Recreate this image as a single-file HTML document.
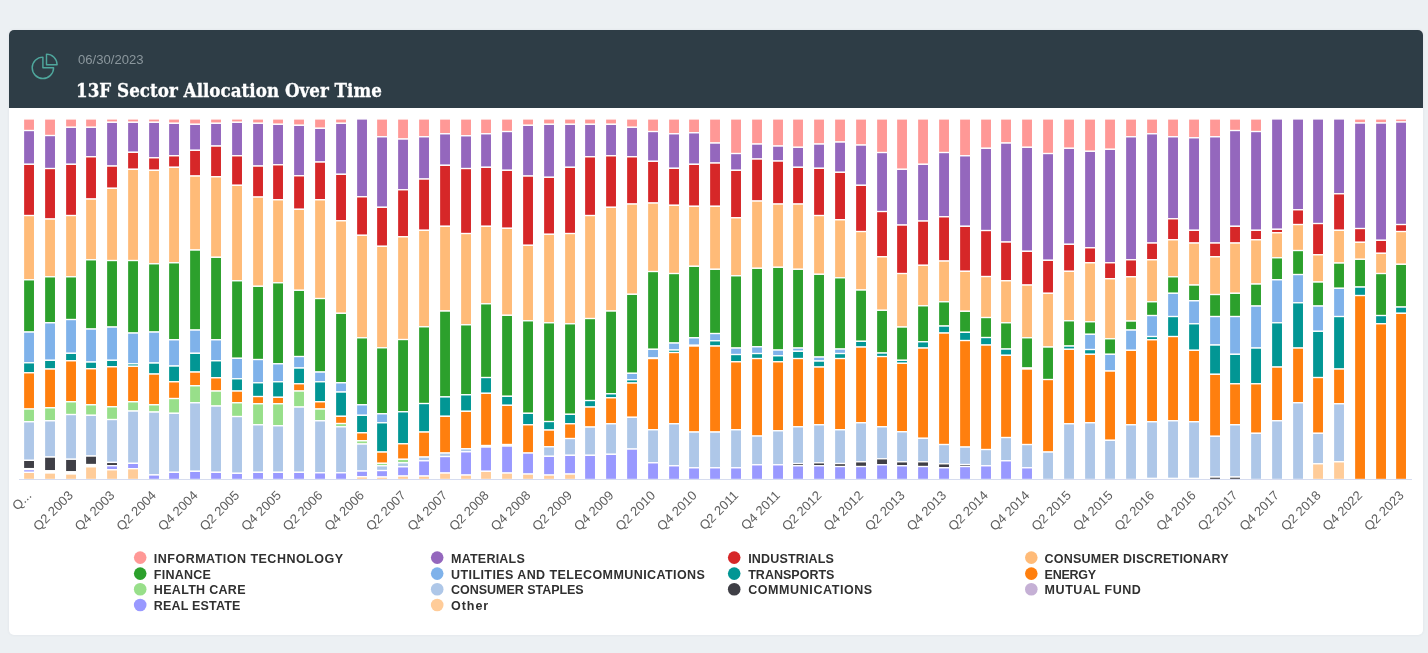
<!DOCTYPE html>
<html lang="en"><head><meta charset="utf-8"><title>13F Sector Allocation Over Time</title>
<style>
html,body{margin:0;padding:0}
body{width:1428px;height:653px;background:#ecf0f3;overflow:hidden;position:relative;font-family:"Liberation Sans",sans-serif}
.card{position:absolute;left:8.5px;top:30px;width:1414.2px;height:604.5px;background:#fff;border-radius:5px;box-shadow:0 0 3px rgba(60,70,80,.07)}
.hd{position:absolute;left:0;top:0;width:1414.2px;height:78.4px;background:#2e3d46;border-radius:5px 5px 0 0}
.date{position:absolute;left:69.5px;top:23.2px;font-size:13.1px;color:#8b979d;line-height:1;white-space:nowrap;letter-spacing:0px}
.title{position:absolute;left:67.9px;top:51.0px;font-family:"DejaVu Serif Condensed","DejaVu Serif","Liberation Serif",serif;font-weight:bold;font-size:19.2px;color:#fff;line-height:1;white-space:nowrap;letter-spacing:0px;transform-origin:0 0;transform:scaleX(0.971);-webkit-text-stroke:.3px #fff}
svg{position:absolute;left:0;top:0}
.xl text{font-family:"Liberation Sans",sans-serif;font-size:13px;fill:#5f5f5f}
.lg text{font-family:"Liberation Sans",sans-serif;font-weight:bold;font-size:12.5px;fill:#303030}
.bars rect{stroke:#fff;stroke-width:1.3}
</style></head><body>
<div class="card"><div class="hd">
<div class="date">06/30/2023</div>
<div class="title">13F Sector Allocation Over Time</div>
</div></div>
<svg width="1428" height="653" viewBox="0 0 1428 653">
<g fill="none" stroke="#4fa79d" stroke-width="1.45" stroke-linejoin="round">
<path d="M42.9 57.1 A10.7 10.7 0 1 0 53.6 67.8 L42.9 67.8 Z"/>
<path d="M46.5 54.1 A10.6 10.6 0 0 1 57.1 64.7 L46.5 64.7 Z"/>
</g>
<g class="bars">
<rect x="23.48" y="118.95" width="11.15" height="11.60" fill="#ff9896"/>
<rect x="23.48" y="130.55" width="11.15" height="33.75" fill="#9467bd"/>
<rect x="23.48" y="164.30" width="11.15" height="51.25" fill="#d62728"/>
<rect x="23.48" y="215.55" width="11.15" height="64.25" fill="#ffbb78"/>
<rect x="23.48" y="279.80" width="11.15" height="52.25" fill="#2ca02c"/>
<rect x="23.48" y="332.05" width="11.15" height="30.75" fill="#7fb2ea"/>
<rect x="23.48" y="362.80" width="11.15" height="10.00" fill="#029694"/>
<rect x="23.48" y="372.80" width="11.15" height="36.25" fill="#ff7f0e"/>
<rect x="23.48" y="409.05" width="11.15" height="12.75" fill="#98df8a"/>
<rect x="23.48" y="421.80" width="11.15" height="38.55" fill="#aec7e8"/>
<rect x="23.48" y="460.35" width="11.15" height="8.25" fill="#3f3f46"/>
<rect x="23.48" y="469.60" width="11.15" height="2.75" fill="#9999ff"/>
<rect x="23.48" y="472.35" width="11.15" height="7.10" fill="#ffcc99"/>
<rect x="44.48" y="118.95" width="11.15" height="16.60" fill="#ff9896"/>
<rect x="44.48" y="135.55" width="11.15" height="33.00" fill="#9467bd"/>
<rect x="44.48" y="168.55" width="11.15" height="50.50" fill="#d62728"/>
<rect x="44.48" y="219.05" width="11.15" height="57.75" fill="#ffbb78"/>
<rect x="44.48" y="276.80" width="11.15" height="46.00" fill="#2ca02c"/>
<rect x="44.48" y="322.80" width="11.15" height="37.50" fill="#7fb2ea"/>
<rect x="44.48" y="360.30" width="11.15" height="8.75" fill="#029694"/>
<rect x="44.48" y="369.05" width="11.15" height="38.75" fill="#ff7f0e"/>
<rect x="44.48" y="407.80" width="11.15" height="13.00" fill="#98df8a"/>
<rect x="44.48" y="420.80" width="11.15" height="36.25" fill="#aec7e8"/>
<rect x="44.48" y="457.05" width="11.15" height="13.65" fill="#3f3f46"/>
<rect x="44.48" y="473.00" width="11.15" height="6.45" fill="#ffcc99"/>
<rect x="65.48" y="118.95" width="11.15" height="8.35" fill="#ff9896"/>
<rect x="65.48" y="127.30" width="11.15" height="37.00" fill="#9467bd"/>
<rect x="65.48" y="164.30" width="11.15" height="51.25" fill="#d62728"/>
<rect x="65.48" y="215.55" width="11.15" height="61.25" fill="#ffbb78"/>
<rect x="65.48" y="276.80" width="11.15" height="42.75" fill="#2ca02c"/>
<rect x="65.48" y="319.55" width="11.15" height="33.75" fill="#7fb2ea"/>
<rect x="65.48" y="353.30" width="11.15" height="7.50" fill="#029694"/>
<rect x="65.48" y="360.80" width="11.15" height="41.00" fill="#ff7f0e"/>
<rect x="65.48" y="401.80" width="11.15" height="12.75" fill="#98df8a"/>
<rect x="65.48" y="414.55" width="11.15" height="44.70" fill="#aec7e8"/>
<rect x="65.48" y="459.25" width="11.15" height="12.45" fill="#3f3f46"/>
<rect x="65.48" y="474.00" width="11.15" height="5.45" fill="#ffcc99"/>
<rect x="85.48" y="118.95" width="11.15" height="8.35" fill="#ff9896"/>
<rect x="85.48" y="127.30" width="11.15" height="29.50" fill="#9467bd"/>
<rect x="85.48" y="156.80" width="11.15" height="42.25" fill="#d62728"/>
<rect x="85.48" y="199.05" width="11.15" height="60.75" fill="#ffbb78"/>
<rect x="85.48" y="259.80" width="11.15" height="69.25" fill="#2ca02c"/>
<rect x="85.48" y="329.05" width="11.15" height="33.00" fill="#7fb2ea"/>
<rect x="85.48" y="362.05" width="11.15" height="6.75" fill="#029694"/>
<rect x="85.48" y="368.80" width="11.15" height="36.00" fill="#ff7f0e"/>
<rect x="85.48" y="404.80" width="11.15" height="10.50" fill="#98df8a"/>
<rect x="85.48" y="415.30" width="11.15" height="40.75" fill="#aec7e8"/>
<rect x="85.48" y="456.05" width="11.15" height="8.45" fill="#3f3f46"/>
<rect x="85.48" y="466.80" width="11.15" height="12.65" fill="#ffcc99"/>
<rect x="106.48" y="118.95" width="11.15" height="3.35" fill="#ff9896"/>
<rect x="106.48" y="122.30" width="11.15" height="43.75" fill="#9467bd"/>
<rect x="106.48" y="166.05" width="11.15" height="22.25" fill="#d62728"/>
<rect x="106.48" y="188.30" width="11.15" height="72.25" fill="#ffbb78"/>
<rect x="106.48" y="260.55" width="11.15" height="66.50" fill="#2ca02c"/>
<rect x="106.48" y="327.05" width="11.15" height="33.25" fill="#7fb2ea"/>
<rect x="106.48" y="360.30" width="11.15" height="6.50" fill="#029694"/>
<rect x="106.48" y="366.80" width="11.15" height="40.00" fill="#ff7f0e"/>
<rect x="106.48" y="406.80" width="11.15" height="12.75" fill="#98df8a"/>
<rect x="106.48" y="419.55" width="11.15" height="42.85" fill="#aec7e8"/>
<rect x="106.48" y="462.40" width="11.15" height="3.35" fill="#3f3f46"/>
<rect x="106.48" y="465.75" width="11.15" height="4.05" fill="#9999ff"/>
<rect x="106.48" y="469.80" width="11.15" height="9.65" fill="#ffcc99"/>
<rect x="127.48" y="118.95" width="11.15" height="3.35" fill="#ff9896"/>
<rect x="127.48" y="122.30" width="11.15" height="30.00" fill="#9467bd"/>
<rect x="127.48" y="152.30" width="11.15" height="17.00" fill="#d62728"/>
<rect x="127.48" y="169.30" width="11.15" height="91.25" fill="#ffbb78"/>
<rect x="127.48" y="260.55" width="11.15" height="72.50" fill="#2ca02c"/>
<rect x="127.48" y="333.05" width="11.15" height="30.75" fill="#7fb2ea"/>
<rect x="127.48" y="363.80" width="11.15" height="2.50" fill="#029694"/>
<rect x="127.48" y="366.30" width="11.15" height="35.50" fill="#ff7f0e"/>
<rect x="127.48" y="401.80" width="11.15" height="9.25" fill="#98df8a"/>
<rect x="127.48" y="411.05" width="11.15" height="52.30" fill="#aec7e8"/>
<rect x="127.48" y="463.35" width="11.15" height="5.35" fill="#9999ff"/>
<rect x="127.48" y="468.70" width="11.15" height="10.75" fill="#ffcc99"/>
<rect x="148.48" y="118.95" width="11.15" height="3.35" fill="#ff9896"/>
<rect x="148.48" y="122.30" width="11.15" height="35.50" fill="#9467bd"/>
<rect x="148.48" y="157.80" width="11.15" height="12.50" fill="#d62728"/>
<rect x="148.48" y="170.30" width="11.15" height="93.50" fill="#ffbb78"/>
<rect x="148.48" y="263.80" width="11.15" height="68.25" fill="#2ca02c"/>
<rect x="148.48" y="332.05" width="11.15" height="31.00" fill="#7fb2ea"/>
<rect x="148.48" y="363.05" width="11.15" height="11.00" fill="#029694"/>
<rect x="148.48" y="374.05" width="11.15" height="30.75" fill="#ff7f0e"/>
<rect x="148.48" y="404.80" width="11.15" height="7.25" fill="#98df8a"/>
<rect x="148.48" y="412.05" width="11.15" height="62.90" fill="#aec7e8"/>
<rect x="148.48" y="474.95" width="11.15" height="4.50" fill="#9999ff"/>
<rect x="168.48" y="118.95" width="11.15" height="4.35" fill="#ff9896"/>
<rect x="168.48" y="123.30" width="11.15" height="32.50" fill="#9467bd"/>
<rect x="168.48" y="155.80" width="11.15" height="11.50" fill="#d62728"/>
<rect x="168.48" y="167.30" width="11.15" height="95.50" fill="#ffbb78"/>
<rect x="168.48" y="262.80" width="11.15" height="77.00" fill="#2ca02c"/>
<rect x="168.48" y="339.80" width="11.15" height="26.25" fill="#7fb2ea"/>
<rect x="168.48" y="366.05" width="11.15" height="15.75" fill="#029694"/>
<rect x="168.48" y="381.80" width="11.15" height="16.75" fill="#ff7f0e"/>
<rect x="168.48" y="398.55" width="11.15" height="14.75" fill="#98df8a"/>
<rect x="168.48" y="413.30" width="11.15" height="59.00" fill="#aec7e8"/>
<rect x="168.48" y="472.30" width="11.15" height="7.15" fill="#9999ff"/>
<rect x="189.48" y="118.95" width="11.15" height="5.35" fill="#ff9896"/>
<rect x="189.48" y="124.30" width="11.15" height="26.00" fill="#9467bd"/>
<rect x="189.48" y="150.30" width="11.15" height="25.75" fill="#d62728"/>
<rect x="189.48" y="176.05" width="11.15" height="74.00" fill="#ffbb78"/>
<rect x="189.48" y="250.05" width="11.15" height="80.00" fill="#2ca02c"/>
<rect x="189.48" y="330.05" width="11.15" height="23.25" fill="#7fb2ea"/>
<rect x="189.48" y="353.30" width="11.15" height="18.75" fill="#029694"/>
<rect x="189.48" y="372.05" width="11.15" height="13.75" fill="#ff7f0e"/>
<rect x="189.48" y="385.80" width="11.15" height="17.00" fill="#98df8a"/>
<rect x="189.48" y="402.80" width="11.15" height="68.50" fill="#aec7e8"/>
<rect x="189.48" y="471.30" width="11.15" height="8.15" fill="#9999ff"/>
<rect x="210.48" y="118.95" width="11.15" height="4.35" fill="#ff9896"/>
<rect x="210.48" y="123.30" width="11.15" height="22.75" fill="#9467bd"/>
<rect x="210.48" y="146.05" width="11.15" height="30.75" fill="#d62728"/>
<rect x="210.48" y="176.80" width="11.15" height="80.50" fill="#ffbb78"/>
<rect x="210.48" y="257.30" width="11.15" height="82.50" fill="#2ca02c"/>
<rect x="210.48" y="339.80" width="11.15" height="21.00" fill="#7fb2ea"/>
<rect x="210.48" y="360.80" width="11.15" height="17.00" fill="#029694"/>
<rect x="210.48" y="377.80" width="11.15" height="13.25" fill="#ff7f0e"/>
<rect x="210.48" y="391.05" width="11.15" height="15.00" fill="#98df8a"/>
<rect x="210.48" y="406.05" width="11.15" height="66.25" fill="#aec7e8"/>
<rect x="210.48" y="472.30" width="11.15" height="7.15" fill="#9999ff"/>
<rect x="231.48" y="118.95" width="11.15" height="3.35" fill="#ff9896"/>
<rect x="231.48" y="122.30" width="11.15" height="33.50" fill="#9467bd"/>
<rect x="231.48" y="155.80" width="11.15" height="29.50" fill="#d62728"/>
<rect x="231.48" y="185.30" width="11.15" height="95.50" fill="#ffbb78"/>
<rect x="231.48" y="280.80" width="11.15" height="77.50" fill="#2ca02c"/>
<rect x="231.48" y="358.30" width="11.15" height="20.50" fill="#7fb2ea"/>
<rect x="231.48" y="378.80" width="11.15" height="12.25" fill="#029694"/>
<rect x="231.48" y="391.05" width="11.15" height="11.75" fill="#ff7f0e"/>
<rect x="231.48" y="402.80" width="11.15" height="13.75" fill="#98df8a"/>
<rect x="231.48" y="416.55" width="11.15" height="56.75" fill="#aec7e8"/>
<rect x="231.48" y="473.30" width="11.15" height="6.15" fill="#9999ff"/>
<rect x="252.48" y="118.95" width="11.15" height="4.35" fill="#ff9896"/>
<rect x="252.48" y="123.30" width="11.15" height="42.75" fill="#9467bd"/>
<rect x="252.48" y="166.05" width="11.15" height="31.00" fill="#d62728"/>
<rect x="252.48" y="197.05" width="11.15" height="89.25" fill="#ffbb78"/>
<rect x="252.48" y="286.30" width="11.15" height="73.25" fill="#2ca02c"/>
<rect x="252.48" y="359.55" width="11.15" height="23.25" fill="#7fb2ea"/>
<rect x="252.48" y="382.80" width="11.15" height="13.75" fill="#029694"/>
<rect x="252.48" y="396.55" width="11.15" height="7.25" fill="#ff7f0e"/>
<rect x="252.48" y="403.80" width="11.15" height="21.00" fill="#98df8a"/>
<rect x="252.48" y="424.80" width="11.15" height="47.50" fill="#aec7e8"/>
<rect x="252.48" y="472.30" width="11.15" height="7.15" fill="#9999ff"/>
<rect x="272.48" y="118.95" width="11.15" height="5.35" fill="#ff9896"/>
<rect x="272.48" y="124.30" width="11.15" height="40.50" fill="#9467bd"/>
<rect x="272.48" y="164.80" width="11.15" height="35.00" fill="#d62728"/>
<rect x="272.48" y="199.80" width="11.15" height="83.00" fill="#ffbb78"/>
<rect x="272.48" y="282.80" width="11.15" height="81.00" fill="#2ca02c"/>
<rect x="272.48" y="363.80" width="11.15" height="18.00" fill="#7fb2ea"/>
<rect x="272.48" y="381.80" width="11.15" height="15.50" fill="#029694"/>
<rect x="272.48" y="397.30" width="11.15" height="6.50" fill="#ff7f0e"/>
<rect x="272.48" y="403.80" width="11.15" height="22.00" fill="#98df8a"/>
<rect x="272.48" y="425.80" width="11.15" height="46.50" fill="#aec7e8"/>
<rect x="272.48" y="472.30" width="11.15" height="7.15" fill="#9999ff"/>
<rect x="293.48" y="118.95" width="11.15" height="6.35" fill="#ff9896"/>
<rect x="293.48" y="125.30" width="11.15" height="50.50" fill="#9467bd"/>
<rect x="293.48" y="175.80" width="11.15" height="33.50" fill="#d62728"/>
<rect x="293.48" y="209.30" width="11.15" height="81.00" fill="#ffbb78"/>
<rect x="293.48" y="290.30" width="11.15" height="66.25" fill="#2ca02c"/>
<rect x="293.48" y="356.55" width="11.15" height="11.50" fill="#7fb2ea"/>
<rect x="293.48" y="368.05" width="11.15" height="15.75" fill="#029694"/>
<rect x="293.48" y="383.80" width="11.15" height="7.25" fill="#ff7f0e"/>
<rect x="293.48" y="391.05" width="11.15" height="16.00" fill="#98df8a"/>
<rect x="293.48" y="407.05" width="11.15" height="65.25" fill="#aec7e8"/>
<rect x="293.48" y="472.30" width="11.15" height="7.15" fill="#9999ff"/>
<rect x="314.48" y="118.95" width="11.15" height="9.35" fill="#ff9896"/>
<rect x="314.48" y="128.30" width="11.15" height="33.75" fill="#9467bd"/>
<rect x="314.48" y="162.05" width="11.15" height="37.75" fill="#d62728"/>
<rect x="314.48" y="199.80" width="11.15" height="98.75" fill="#ffbb78"/>
<rect x="314.48" y="298.55" width="11.15" height="73.50" fill="#2ca02c"/>
<rect x="314.48" y="372.05" width="11.15" height="9.75" fill="#7fb2ea"/>
<rect x="314.48" y="381.80" width="11.15" height="20.00" fill="#029694"/>
<rect x="314.48" y="401.80" width="11.15" height="7.25" fill="#ff7f0e"/>
<rect x="314.48" y="409.05" width="11.15" height="11.75" fill="#98df8a"/>
<rect x="314.48" y="420.80" width="11.15" height="52.00" fill="#aec7e8"/>
<rect x="314.48" y="472.80" width="11.15" height="6.65" fill="#9999ff"/>
<rect x="335.48" y="118.95" width="11.15" height="4.35" fill="#ff9896"/>
<rect x="335.48" y="123.30" width="11.15" height="51.00" fill="#9467bd"/>
<rect x="335.48" y="174.30" width="11.15" height="46.50" fill="#d62728"/>
<rect x="335.48" y="220.80" width="11.15" height="92.50" fill="#ffbb78"/>
<rect x="335.48" y="313.30" width="11.15" height="69.50" fill="#2ca02c"/>
<rect x="335.48" y="382.80" width="11.15" height="9.25" fill="#7fb2ea"/>
<rect x="335.48" y="392.05" width="11.15" height="24.25" fill="#029694"/>
<rect x="335.48" y="416.30" width="11.15" height="7.25" fill="#ff7f0e"/>
<rect x="335.48" y="423.55" width="11.15" height="3.25" fill="#98df8a"/>
<rect x="335.48" y="426.80" width="11.15" height="46.00" fill="#aec7e8"/>
<rect x="335.48" y="472.80" width="11.15" height="6.65" fill="#9999ff"/>
<rect x="356.48" y="118.95" width="11.15" height="77.85" fill="#9467bd"/>
<rect x="356.48" y="196.80" width="11.15" height="38.50" fill="#d62728"/>
<rect x="356.48" y="235.30" width="11.15" height="102.50" fill="#ffbb78"/>
<rect x="356.48" y="337.80" width="11.15" height="67.00" fill="#2ca02c"/>
<rect x="356.48" y="404.80" width="11.15" height="10.50" fill="#7fb2ea"/>
<rect x="356.48" y="415.30" width="11.15" height="17.50" fill="#029694"/>
<rect x="356.48" y="432.80" width="11.15" height="8.00" fill="#ff7f0e"/>
<rect x="356.48" y="440.80" width="11.15" height="3.25" fill="#98df8a"/>
<rect x="356.48" y="444.05" width="11.15" height="27.00" fill="#aec7e8"/>
<rect x="356.48" y="471.05" width="11.15" height="5.75" fill="#9999ff"/>
<rect x="356.48" y="476.80" width="11.15" height="2.65" fill="#ffcc99"/>
<rect x="376.48" y="118.95" width="11.15" height="17.85" fill="#ff9896"/>
<rect x="376.48" y="136.80" width="11.15" height="70.50" fill="#9467bd"/>
<rect x="376.48" y="207.30" width="11.15" height="39.00" fill="#d62728"/>
<rect x="376.48" y="246.30" width="11.15" height="101.50" fill="#ffbb78"/>
<rect x="376.48" y="347.80" width="11.15" height="66.00" fill="#2ca02c"/>
<rect x="376.48" y="413.80" width="11.15" height="9.00" fill="#7fb2ea"/>
<rect x="376.48" y="422.80" width="11.15" height="29.25" fill="#029694"/>
<rect x="376.48" y="452.05" width="11.15" height="11.25" fill="#ff7f0e"/>
<rect x="376.48" y="463.30" width="11.15" height="2.50" fill="#98df8a"/>
<rect x="376.48" y="465.80" width="11.15" height="4.75" fill="#aec7e8"/>
<rect x="376.48" y="470.55" width="11.15" height="6.50" fill="#9999ff"/>
<rect x="376.48" y="477.05" width="11.15" height="2.40" fill="#ffcc99"/>
<rect x="397.48" y="118.95" width="11.15" height="20.10" fill="#ff9896"/>
<rect x="397.48" y="139.05" width="11.15" height="50.75" fill="#9467bd"/>
<rect x="397.48" y="189.80" width="11.15" height="47.00" fill="#d62728"/>
<rect x="397.48" y="236.80" width="11.15" height="102.75" fill="#ffbb78"/>
<rect x="397.48" y="339.55" width="11.15" height="72.25" fill="#2ca02c"/>
<rect x="397.48" y="411.80" width="11.15" height="32.00" fill="#029694"/>
<rect x="397.48" y="443.80" width="11.15" height="15.50" fill="#ff7f0e"/>
<rect x="397.48" y="459.30" width="11.15" height="3.50" fill="#98df8a"/>
<rect x="397.48" y="462.80" width="11.15" height="4.00" fill="#aec7e8"/>
<rect x="397.48" y="466.80" width="11.15" height="9.25" fill="#9999ff"/>
<rect x="397.48" y="476.05" width="11.15" height="3.40" fill="#ffcc99"/>
<rect x="418.48" y="118.95" width="11.15" height="17.85" fill="#ff9896"/>
<rect x="418.48" y="136.80" width="11.15" height="42.25" fill="#9467bd"/>
<rect x="418.48" y="179.05" width="11.15" height="51.25" fill="#d62728"/>
<rect x="418.48" y="230.30" width="11.15" height="96.50" fill="#ffbb78"/>
<rect x="418.48" y="326.80" width="11.15" height="76.75" fill="#2ca02c"/>
<rect x="418.48" y="403.55" width="11.15" height="28.50" fill="#029694"/>
<rect x="418.48" y="432.05" width="11.15" height="25.00" fill="#ff7f0e"/>
<rect x="418.48" y="457.05" width="11.15" height="3.75" fill="#aec7e8"/>
<rect x="418.48" y="460.80" width="11.15" height="15.25" fill="#9999ff"/>
<rect x="418.48" y="476.05" width="11.15" height="3.40" fill="#ffcc99"/>
<rect x="439.48" y="118.95" width="11.15" height="14.85" fill="#ff9896"/>
<rect x="439.48" y="133.80" width="11.15" height="31.50" fill="#9467bd"/>
<rect x="439.48" y="165.30" width="11.15" height="61.00" fill="#d62728"/>
<rect x="439.48" y="226.30" width="11.15" height="84.75" fill="#ffbb78"/>
<rect x="439.48" y="311.05" width="11.15" height="85.88" fill="#2ca02c"/>
<rect x="439.48" y="396.93" width="11.15" height="19.38" fill="#029694"/>
<rect x="439.48" y="416.30" width="11.15" height="36.75" fill="#ff7f0e"/>
<rect x="439.48" y="453.05" width="11.15" height="3.50" fill="#aec7e8"/>
<rect x="439.48" y="456.55" width="11.15" height="16.50" fill="#9999ff"/>
<rect x="439.48" y="473.05" width="11.15" height="6.40" fill="#ffcc99"/>
<rect x="460.48" y="118.95" width="11.15" height="16.85" fill="#ff9896"/>
<rect x="460.48" y="135.80" width="11.15" height="32.75" fill="#9467bd"/>
<rect x="460.48" y="168.55" width="11.15" height="65.00" fill="#d62728"/>
<rect x="460.48" y="233.55" width="11.15" height="91.25" fill="#ffbb78"/>
<rect x="460.48" y="324.80" width="11.15" height="70.00" fill="#2ca02c"/>
<rect x="460.48" y="394.80" width="11.15" height="16.50" fill="#029694"/>
<rect x="460.48" y="411.30" width="11.15" height="37.50" fill="#ff7f0e"/>
<rect x="460.48" y="448.80" width="11.15" height="3.00" fill="#aec7e8"/>
<rect x="460.48" y="451.80" width="11.15" height="23.25" fill="#9999ff"/>
<rect x="460.48" y="475.05" width="11.15" height="4.40" fill="#ffcc99"/>
<rect x="480.48" y="118.95" width="11.15" height="14.85" fill="#ff9896"/>
<rect x="480.48" y="133.80" width="11.15" height="33.50" fill="#9467bd"/>
<rect x="480.48" y="167.30" width="11.15" height="59.00" fill="#d62728"/>
<rect x="480.48" y="226.30" width="11.15" height="77.50" fill="#ffbb78"/>
<rect x="480.48" y="303.80" width="11.15" height="73.75" fill="#2ca02c"/>
<rect x="480.48" y="377.55" width="11.15" height="15.75" fill="#029694"/>
<rect x="480.48" y="393.30" width="11.15" height="52.25" fill="#ff7f0e"/>
<rect x="480.48" y="445.55" width="11.15" height="1.50" fill="#aec7e8"/>
<rect x="480.48" y="447.05" width="11.15" height="24.25" fill="#9999ff"/>
<rect x="480.48" y="471.30" width="11.15" height="8.15" fill="#ffcc99"/>
<rect x="501.48" y="118.95" width="11.15" height="12.60" fill="#ff9896"/>
<rect x="501.48" y="131.55" width="11.15" height="38.75" fill="#9467bd"/>
<rect x="501.48" y="170.30" width="11.15" height="58.00" fill="#d62728"/>
<rect x="501.48" y="228.30" width="11.15" height="87.00" fill="#ffbb78"/>
<rect x="501.48" y="315.30" width="11.15" height="81.00" fill="#2ca02c"/>
<rect x="501.48" y="396.30" width="11.15" height="9.00" fill="#029694"/>
<rect x="501.48" y="405.30" width="11.15" height="39.25" fill="#ff7f0e"/>
<rect x="501.48" y="444.55" width="11.15" height="1.50" fill="#aec7e8"/>
<rect x="501.48" y="446.05" width="11.15" height="27.00" fill="#9999ff"/>
<rect x="501.48" y="473.05" width="11.15" height="6.40" fill="#ffcc99"/>
<rect x="522.48" y="118.95" width="11.15" height="6.35" fill="#ff9896"/>
<rect x="522.48" y="125.30" width="11.15" height="50.75" fill="#9467bd"/>
<rect x="522.48" y="176.05" width="11.15" height="69.25" fill="#d62728"/>
<rect x="522.48" y="245.30" width="11.15" height="75.50" fill="#ffbb78"/>
<rect x="522.48" y="320.80" width="11.15" height="92.50" fill="#2ca02c"/>
<rect x="522.48" y="413.30" width="11.15" height="11.50" fill="#029694"/>
<rect x="522.48" y="424.80" width="11.15" height="28.25" fill="#ff7f0e"/>
<rect x="522.48" y="453.05" width="11.15" height="21.00" fill="#9999ff"/>
<rect x="522.48" y="474.05" width="11.15" height="5.40" fill="#ffcc99"/>
<rect x="543.48" y="118.95" width="11.15" height="5.35" fill="#ff9896"/>
<rect x="543.48" y="124.30" width="11.15" height="53.00" fill="#9467bd"/>
<rect x="543.48" y="177.30" width="11.15" height="57.00" fill="#d62728"/>
<rect x="543.48" y="234.30" width="11.15" height="88.50" fill="#ffbb78"/>
<rect x="543.48" y="322.80" width="11.15" height="98.75" fill="#2ca02c"/>
<rect x="543.48" y="421.55" width="11.15" height="8.50" fill="#029694"/>
<rect x="543.48" y="430.05" width="11.15" height="16.75" fill="#ff7f0e"/>
<rect x="543.48" y="446.80" width="11.15" height="9.50" fill="#aec7e8"/>
<rect x="543.48" y="456.30" width="11.15" height="18.75" fill="#9999ff"/>
<rect x="543.48" y="475.05" width="11.15" height="4.40" fill="#ffcc99"/>
<rect x="564.48" y="118.95" width="11.15" height="5.35" fill="#ff9896"/>
<rect x="564.48" y="124.30" width="11.15" height="43.00" fill="#9467bd"/>
<rect x="564.48" y="167.30" width="11.15" height="66.25" fill="#d62728"/>
<rect x="564.48" y="233.55" width="11.15" height="90.25" fill="#ffbb78"/>
<rect x="564.48" y="323.80" width="11.15" height="90.50" fill="#2ca02c"/>
<rect x="564.48" y="414.30" width="11.15" height="9.50" fill="#029694"/>
<rect x="564.48" y="423.80" width="11.15" height="14.75" fill="#ff7f0e"/>
<rect x="564.48" y="438.55" width="11.15" height="16.75" fill="#aec7e8"/>
<rect x="564.48" y="455.30" width="11.15" height="18.75" fill="#9999ff"/>
<rect x="564.48" y="474.05" width="11.15" height="5.40" fill="#ffcc99"/>
<rect x="584.48" y="118.95" width="11.15" height="5.35" fill="#ff9896"/>
<rect x="584.48" y="124.30" width="11.15" height="32.50" fill="#9467bd"/>
<rect x="584.48" y="156.80" width="11.15" height="58.75" fill="#d62728"/>
<rect x="584.48" y="215.55" width="11.15" height="103.00" fill="#ffbb78"/>
<rect x="584.48" y="318.55" width="11.15" height="82.00" fill="#2ca02c"/>
<rect x="584.48" y="400.55" width="11.15" height="6.50" fill="#029694"/>
<rect x="584.48" y="407.05" width="11.15" height="20.00" fill="#ff7f0e"/>
<rect x="584.48" y="427.05" width="11.15" height="28.25" fill="#aec7e8"/>
<rect x="584.48" y="455.30" width="11.15" height="24.15" fill="#9999ff"/>
<rect x="605.48" y="118.95" width="11.15" height="5.35" fill="#ff9896"/>
<rect x="605.48" y="124.30" width="11.15" height="31.50" fill="#9467bd"/>
<rect x="605.48" y="155.80" width="11.15" height="51.50" fill="#d62728"/>
<rect x="605.48" y="207.30" width="11.15" height="103.75" fill="#ffbb78"/>
<rect x="605.48" y="311.05" width="11.15" height="82.75" fill="#2ca02c"/>
<rect x="605.48" y="393.80" width="11.15" height="4.00" fill="#029694"/>
<rect x="605.48" y="397.80" width="11.15" height="26.00" fill="#ff7f0e"/>
<rect x="605.48" y="423.80" width="11.15" height="30.50" fill="#aec7e8"/>
<rect x="605.48" y="454.30" width="11.15" height="25.15" fill="#9999ff"/>
<rect x="626.48" y="118.95" width="11.15" height="8.35" fill="#ff9896"/>
<rect x="626.48" y="127.30" width="11.15" height="29.50" fill="#9467bd"/>
<rect x="626.48" y="156.80" width="11.15" height="47.25" fill="#d62728"/>
<rect x="626.48" y="204.05" width="11.15" height="90.25" fill="#ffbb78"/>
<rect x="626.48" y="294.30" width="11.15" height="79.00" fill="#2ca02c"/>
<rect x="626.48" y="373.30" width="11.15" height="6.50" fill="#7fb2ea"/>
<rect x="626.48" y="379.80" width="11.15" height="3.25" fill="#029694"/>
<rect x="626.48" y="383.05" width="11.15" height="34.25" fill="#ff7f0e"/>
<rect x="626.48" y="417.30" width="11.15" height="31.75" fill="#aec7e8"/>
<rect x="626.48" y="449.05" width="11.15" height="30.40" fill="#9999ff"/>
<rect x="647.48" y="118.95" width="11.15" height="12.60" fill="#ff9896"/>
<rect x="647.48" y="131.55" width="11.15" height="29.75" fill="#9467bd"/>
<rect x="647.48" y="161.30" width="11.15" height="41.75" fill="#d62728"/>
<rect x="647.48" y="203.05" width="11.15" height="68.50" fill="#ffbb78"/>
<rect x="647.48" y="271.55" width="11.15" height="77.75" fill="#2ca02c"/>
<rect x="647.48" y="349.30" width="11.15" height="8.50" fill="#7fb2ea"/>
<rect x="647.48" y="358.55" width="11.15" height="71.25" fill="#ff7f0e"/>
<rect x="647.48" y="429.80" width="11.15" height="33.00" fill="#aec7e8"/>
<rect x="647.48" y="462.80" width="11.15" height="16.65" fill="#9999ff"/>
<rect x="668.48" y="118.95" width="11.15" height="14.85" fill="#ff9896"/>
<rect x="668.48" y="133.80" width="11.15" height="34.50" fill="#9467bd"/>
<rect x="668.48" y="168.30" width="11.15" height="37.00" fill="#d62728"/>
<rect x="668.48" y="205.30" width="11.15" height="68.25" fill="#ffbb78"/>
<rect x="668.48" y="273.55" width="11.15" height="69.50" fill="#2ca02c"/>
<rect x="668.48" y="343.05" width="11.15" height="7.00" fill="#7fb2ea"/>
<rect x="668.48" y="350.05" width="11.15" height="2.50" fill="#029694"/>
<rect x="668.48" y="352.55" width="11.15" height="71.25" fill="#ff7f0e"/>
<rect x="668.48" y="423.80" width="11.15" height="42.00" fill="#aec7e8"/>
<rect x="668.48" y="465.80" width="11.15" height="13.65" fill="#9999ff"/>
<rect x="688.48" y="118.95" width="11.15" height="13.85" fill="#ff9896"/>
<rect x="688.48" y="132.80" width="11.15" height="31.50" fill="#9467bd"/>
<rect x="688.48" y="164.30" width="11.15" height="42.00" fill="#d62728"/>
<rect x="688.48" y="206.30" width="11.15" height="60.00" fill="#ffbb78"/>
<rect x="688.48" y="266.30" width="11.15" height="71.50" fill="#2ca02c"/>
<rect x="688.48" y="337.80" width="11.15" height="7.25" fill="#7fb2ea"/>
<rect x="688.48" y="346.05" width="11.15" height="86.00" fill="#ff7f0e"/>
<rect x="688.48" y="432.05" width="11.15" height="35.75" fill="#aec7e8"/>
<rect x="688.48" y="467.80" width="11.15" height="11.65" fill="#9999ff"/>
<rect x="709.48" y="118.95" width="11.15" height="24.10" fill="#ff9896"/>
<rect x="709.48" y="143.05" width="11.15" height="20.00" fill="#9467bd"/>
<rect x="709.48" y="163.05" width="11.15" height="43.25" fill="#d62728"/>
<rect x="709.48" y="206.30" width="11.15" height="63.00" fill="#ffbb78"/>
<rect x="709.48" y="269.30" width="11.15" height="64.25" fill="#2ca02c"/>
<rect x="709.48" y="333.55" width="11.15" height="7.25" fill="#7fb2ea"/>
<rect x="709.48" y="340.80" width="11.15" height="5.25" fill="#029694"/>
<rect x="709.48" y="346.05" width="11.15" height="86.00" fill="#ff7f0e"/>
<rect x="709.48" y="432.05" width="11.15" height="35.75" fill="#aec7e8"/>
<rect x="709.48" y="467.80" width="11.15" height="11.65" fill="#9999ff"/>
<rect x="730.48" y="118.95" width="11.15" height="34.60" fill="#ff9896"/>
<rect x="730.48" y="153.55" width="11.15" height="16.75" fill="#9467bd"/>
<rect x="730.48" y="170.30" width="11.15" height="47.50" fill="#d62728"/>
<rect x="730.48" y="217.80" width="11.15" height="58.00" fill="#ffbb78"/>
<rect x="730.48" y="275.80" width="11.15" height="72.25" fill="#2ca02c"/>
<rect x="730.48" y="348.05" width="11.15" height="6.50" fill="#7fb2ea"/>
<rect x="730.48" y="354.55" width="11.15" height="7.25" fill="#029694"/>
<rect x="730.48" y="361.80" width="11.15" height="68.00" fill="#ff7f0e"/>
<rect x="730.48" y="429.80" width="11.15" height="38.00" fill="#aec7e8"/>
<rect x="730.48" y="467.80" width="11.15" height="11.65" fill="#9999ff"/>
<rect x="751.48" y="118.95" width="11.15" height="25.10" fill="#ff9896"/>
<rect x="751.48" y="144.05" width="11.15" height="15.00" fill="#9467bd"/>
<rect x="751.48" y="159.05" width="11.15" height="42.00" fill="#d62728"/>
<rect x="751.48" y="201.05" width="11.15" height="67.25" fill="#ffbb78"/>
<rect x="751.48" y="268.30" width="11.15" height="78.50" fill="#2ca02c"/>
<rect x="751.48" y="346.80" width="11.15" height="6.75" fill="#7fb2ea"/>
<rect x="751.48" y="353.55" width="11.15" height="5.00" fill="#029694"/>
<rect x="751.48" y="358.55" width="11.15" height="77.50" fill="#ff7f0e"/>
<rect x="751.48" y="436.05" width="11.15" height="28.75" fill="#aec7e8"/>
<rect x="751.48" y="464.80" width="11.15" height="14.65" fill="#9999ff"/>
<rect x="772.48" y="118.95" width="11.15" height="27.10" fill="#ff9896"/>
<rect x="772.48" y="146.05" width="11.15" height="15.00" fill="#9467bd"/>
<rect x="772.48" y="161.05" width="11.15" height="43.00" fill="#d62728"/>
<rect x="772.48" y="204.05" width="11.15" height="63.25" fill="#ffbb78"/>
<rect x="772.48" y="267.30" width="11.15" height="82.75" fill="#2ca02c"/>
<rect x="772.48" y="350.05" width="11.15" height="5.75" fill="#7fb2ea"/>
<rect x="772.48" y="355.80" width="11.15" height="6.00" fill="#029694"/>
<rect x="772.48" y="361.80" width="11.15" height="69.00" fill="#ff7f0e"/>
<rect x="772.48" y="430.80" width="11.15" height="34.00" fill="#aec7e8"/>
<rect x="772.48" y="464.80" width="11.15" height="14.65" fill="#9999ff"/>
<rect x="792.48" y="118.95" width="11.15" height="28.35" fill="#ff9896"/>
<rect x="792.48" y="147.30" width="11.15" height="20.00" fill="#9467bd"/>
<rect x="792.48" y="167.30" width="11.15" height="36.75" fill="#d62728"/>
<rect x="792.48" y="204.05" width="11.15" height="65.25" fill="#ffbb78"/>
<rect x="792.48" y="269.30" width="11.15" height="78.75" fill="#2ca02c"/>
<rect x="792.48" y="348.05" width="11.15" height="3.25" fill="#7fb2ea"/>
<rect x="792.48" y="351.30" width="11.15" height="7.25" fill="#029694"/>
<rect x="792.48" y="358.55" width="11.15" height="68.25" fill="#ff7f0e"/>
<rect x="792.48" y="426.80" width="11.15" height="36.75" fill="#aec7e8"/>
<rect x="792.48" y="463.55" width="11.15" height="2.25" fill="#3f3f46"/>
<rect x="792.48" y="465.80" width="11.15" height="13.65" fill="#9999ff"/>
<rect x="813.48" y="118.95" width="11.15" height="25.10" fill="#ff9896"/>
<rect x="813.48" y="144.05" width="11.15" height="24.25" fill="#9467bd"/>
<rect x="813.48" y="168.30" width="11.15" height="47.25" fill="#d62728"/>
<rect x="813.48" y="215.55" width="11.15" height="58.75" fill="#ffbb78"/>
<rect x="813.48" y="274.30" width="11.15" height="82.75" fill="#2ca02c"/>
<rect x="813.48" y="357.05" width="11.15" height="4.00" fill="#7fb2ea"/>
<rect x="813.48" y="361.05" width="11.15" height="6.00" fill="#029694"/>
<rect x="813.48" y="367.05" width="11.15" height="57.75" fill="#ff7f0e"/>
<rect x="813.48" y="424.80" width="11.15" height="38.00" fill="#aec7e8"/>
<rect x="813.48" y="462.80" width="11.15" height="3.00" fill="#3f3f46"/>
<rect x="813.48" y="465.80" width="11.15" height="13.65" fill="#9999ff"/>
<rect x="834.48" y="118.95" width="11.15" height="23.10" fill="#ff9896"/>
<rect x="834.48" y="142.05" width="11.15" height="30.25" fill="#9467bd"/>
<rect x="834.48" y="172.30" width="11.15" height="47.50" fill="#d62728"/>
<rect x="834.48" y="219.80" width="11.15" height="58.00" fill="#ffbb78"/>
<rect x="834.48" y="277.80" width="11.15" height="71.25" fill="#2ca02c"/>
<rect x="834.48" y="349.05" width="11.15" height="4.50" fill="#7fb2ea"/>
<rect x="834.48" y="353.55" width="11.15" height="5.00" fill="#029694"/>
<rect x="834.48" y="358.55" width="11.15" height="71.25" fill="#ff7f0e"/>
<rect x="834.48" y="429.80" width="11.15" height="33.75" fill="#aec7e8"/>
<rect x="834.48" y="463.55" width="11.15" height="3.00" fill="#3f3f46"/>
<rect x="834.48" y="466.55" width="11.15" height="12.90" fill="#9999ff"/>
<rect x="855.48" y="118.95" width="11.15" height="26.10" fill="#ff9896"/>
<rect x="855.48" y="145.05" width="11.15" height="40.25" fill="#9467bd"/>
<rect x="855.48" y="185.30" width="11.15" height="46.25" fill="#d62728"/>
<rect x="855.48" y="231.55" width="11.15" height="58.50" fill="#ffbb78"/>
<rect x="855.48" y="290.05" width="11.15" height="51.25" fill="#2ca02c"/>
<rect x="855.48" y="341.30" width="11.15" height="5.75" fill="#029694"/>
<rect x="855.48" y="347.05" width="11.15" height="75.75" fill="#ff7f0e"/>
<rect x="855.48" y="422.80" width="11.15" height="39.00" fill="#aec7e8"/>
<rect x="855.48" y="461.80" width="11.15" height="4.75" fill="#3f3f46"/>
<rect x="855.48" y="466.55" width="11.15" height="12.90" fill="#9999ff"/>
<rect x="876.48" y="118.95" width="11.15" height="33.60" fill="#ff9896"/>
<rect x="876.48" y="152.55" width="11.15" height="59.00" fill="#9467bd"/>
<rect x="876.48" y="211.55" width="11.15" height="45.25" fill="#d62728"/>
<rect x="876.48" y="256.80" width="11.15" height="53.50" fill="#ffbb78"/>
<rect x="876.48" y="310.30" width="11.15" height="42.75" fill="#2ca02c"/>
<rect x="876.48" y="353.05" width="11.15" height="3.50" fill="#029694"/>
<rect x="876.48" y="356.55" width="11.15" height="70.25" fill="#ff7f0e"/>
<rect x="876.48" y="426.80" width="11.15" height="32.00" fill="#aec7e8"/>
<rect x="876.48" y="458.80" width="11.15" height="6.00" fill="#3f3f46"/>
<rect x="876.48" y="464.80" width="11.15" height="14.65" fill="#9999ff"/>
<rect x="896.48" y="118.95" width="11.15" height="50.35" fill="#ff9896"/>
<rect x="896.48" y="169.30" width="11.15" height="55.75" fill="#9467bd"/>
<rect x="896.48" y="225.05" width="11.15" height="48.50" fill="#d62728"/>
<rect x="896.48" y="273.55" width="11.15" height="53.50" fill="#ffbb78"/>
<rect x="896.48" y="327.05" width="11.15" height="33.25" fill="#2ca02c"/>
<rect x="896.48" y="360.30" width="11.15" height="3.00" fill="#029694"/>
<rect x="896.48" y="363.30" width="11.15" height="68.50" fill="#ff7f0e"/>
<rect x="896.48" y="431.80" width="11.15" height="30.00" fill="#aec7e8"/>
<rect x="896.48" y="461.80" width="11.15" height="4.00" fill="#3f3f46"/>
<rect x="896.48" y="465.80" width="11.15" height="13.65" fill="#9999ff"/>
<rect x="917.48" y="118.95" width="11.15" height="45.35" fill="#ff9896"/>
<rect x="917.48" y="164.30" width="11.15" height="56.75" fill="#9467bd"/>
<rect x="917.48" y="221.05" width="11.15" height="44.25" fill="#d62728"/>
<rect x="917.48" y="265.30" width="11.15" height="40.50" fill="#ffbb78"/>
<rect x="917.48" y="305.80" width="11.15" height="36.00" fill="#2ca02c"/>
<rect x="917.48" y="341.80" width="11.15" height="6.25" fill="#029694"/>
<rect x="917.48" y="348.05" width="11.15" height="90.25" fill="#ff7f0e"/>
<rect x="917.48" y="438.30" width="11.15" height="23.50" fill="#aec7e8"/>
<rect x="917.48" y="461.80" width="11.15" height="4.75" fill="#3f3f46"/>
<rect x="917.48" y="466.55" width="11.15" height="12.90" fill="#9999ff"/>
<rect x="938.48" y="118.95" width="11.15" height="33.60" fill="#ff9896"/>
<rect x="938.48" y="152.55" width="11.15" height="64.25" fill="#9467bd"/>
<rect x="938.48" y="216.80" width="11.15" height="44.25" fill="#d62728"/>
<rect x="938.48" y="261.05" width="11.15" height="40.75" fill="#ffbb78"/>
<rect x="938.48" y="301.80" width="11.15" height="24.25" fill="#2ca02c"/>
<rect x="938.48" y="326.05" width="11.15" height="7.00" fill="#029694"/>
<rect x="938.48" y="333.05" width="11.15" height="111.50" fill="#ff7f0e"/>
<rect x="938.48" y="444.55" width="11.15" height="19.25" fill="#aec7e8"/>
<rect x="938.48" y="463.80" width="11.15" height="4.00" fill="#3f3f46"/>
<rect x="938.48" y="467.80" width="11.15" height="11.65" fill="#9999ff"/>
<rect x="959.48" y="118.95" width="11.15" height="36.85" fill="#ff9896"/>
<rect x="959.48" y="155.80" width="11.15" height="70.50" fill="#9467bd"/>
<rect x="959.48" y="226.30" width="11.15" height="45.00" fill="#d62728"/>
<rect x="959.48" y="271.30" width="11.15" height="40.00" fill="#ffbb78"/>
<rect x="959.48" y="311.30" width="11.15" height="21.00" fill="#2ca02c"/>
<rect x="959.48" y="332.30" width="11.15" height="8.25" fill="#029694"/>
<rect x="959.48" y="340.55" width="11.15" height="106.50" fill="#ff7f0e"/>
<rect x="959.48" y="447.05" width="11.15" height="17.50" fill="#aec7e8"/>
<rect x="959.48" y="464.55" width="11.15" height="2.00" fill="#3f3f46"/>
<rect x="959.48" y="466.55" width="11.15" height="12.90" fill="#9999ff"/>
<rect x="980.48" y="118.95" width="11.15" height="29.35" fill="#ff9896"/>
<rect x="980.48" y="148.30" width="11.15" height="82.25" fill="#9467bd"/>
<rect x="980.48" y="230.55" width="11.15" height="46.00" fill="#d62728"/>
<rect x="980.48" y="276.55" width="11.15" height="41.00" fill="#ffbb78"/>
<rect x="980.48" y="317.55" width="11.15" height="20.00" fill="#2ca02c"/>
<rect x="980.48" y="337.55" width="11.15" height="7.50" fill="#029694"/>
<rect x="980.48" y="345.05" width="11.15" height="104.50" fill="#ff7f0e"/>
<rect x="980.48" y="449.55" width="11.15" height="16.25" fill="#aec7e8"/>
<rect x="980.48" y="465.80" width="11.15" height="13.65" fill="#9999ff"/>
<rect x="1000.48" y="118.95" width="11.15" height="24.10" fill="#ff9896"/>
<rect x="1000.48" y="143.05" width="11.15" height="99.00" fill="#9467bd"/>
<rect x="1000.48" y="242.05" width="11.15" height="38.75" fill="#d62728"/>
<rect x="1000.48" y="280.80" width="11.15" height="42.00" fill="#ffbb78"/>
<rect x="1000.48" y="322.80" width="11.15" height="26.25" fill="#2ca02c"/>
<rect x="1000.48" y="349.05" width="11.15" height="6.25" fill="#029694"/>
<rect x="1000.48" y="355.30" width="11.15" height="82.25" fill="#ff7f0e"/>
<rect x="1000.48" y="437.55" width="11.15" height="23.25" fill="#aec7e8"/>
<rect x="1000.48" y="460.80" width="11.15" height="18.65" fill="#9999ff"/>
<rect x="1021.48" y="118.95" width="11.15" height="28.35" fill="#ff9896"/>
<rect x="1021.48" y="147.30" width="11.15" height="104.00" fill="#9467bd"/>
<rect x="1021.48" y="251.30" width="11.15" height="33.75" fill="#d62728"/>
<rect x="1021.48" y="285.05" width="11.15" height="52.75" fill="#ffbb78"/>
<rect x="1021.48" y="337.80" width="11.15" height="30.25" fill="#2ca02c"/>
<rect x="1021.48" y="368.05" width="11.15" height="1.00" fill="#029694"/>
<rect x="1021.48" y="369.05" width="11.15" height="75.50" fill="#ff7f0e"/>
<rect x="1021.48" y="444.55" width="11.15" height="23.25" fill="#aec7e8"/>
<rect x="1021.48" y="467.80" width="11.15" height="11.65" fill="#9999ff"/>
<rect x="1042.48" y="118.95" width="11.15" height="34.60" fill="#ff9896"/>
<rect x="1042.48" y="153.55" width="11.15" height="106.75" fill="#9467bd"/>
<rect x="1042.48" y="260.30" width="11.15" height="33.00" fill="#d62728"/>
<rect x="1042.48" y="293.30" width="11.15" height="53.75" fill="#ffbb78"/>
<rect x="1042.48" y="347.05" width="11.15" height="32.50" fill="#2ca02c"/>
<rect x="1042.48" y="379.55" width="11.15" height="72.50" fill="#ff7f0e"/>
<rect x="1042.48" y="452.05" width="11.15" height="27.40" fill="#aec7e8"/>
<rect x="1063.48" y="118.95" width="11.15" height="29.35" fill="#ff9896"/>
<rect x="1063.48" y="148.30" width="11.15" height="96.00" fill="#9467bd"/>
<rect x="1063.48" y="244.30" width="11.15" height="27.00" fill="#d62728"/>
<rect x="1063.48" y="271.30" width="11.15" height="49.50" fill="#ffbb78"/>
<rect x="1063.48" y="320.80" width="11.15" height="25.25" fill="#2ca02c"/>
<rect x="1063.48" y="346.05" width="11.15" height="3.25" fill="#029694"/>
<rect x="1063.48" y="349.30" width="11.15" height="74.50" fill="#ff7f0e"/>
<rect x="1063.48" y="423.80" width="11.15" height="55.65" fill="#aec7e8"/>
<rect x="1084.48" y="118.95" width="11.15" height="32.35" fill="#ff9896"/>
<rect x="1084.48" y="151.30" width="11.15" height="96.50" fill="#9467bd"/>
<rect x="1084.48" y="247.80" width="11.15" height="15.00" fill="#d62728"/>
<rect x="1084.48" y="262.80" width="11.15" height="59.00" fill="#ffbb78"/>
<rect x="1084.48" y="321.80" width="11.15" height="12.50" fill="#2ca02c"/>
<rect x="1084.48" y="334.30" width="11.15" height="15.25" fill="#7fb2ea"/>
<rect x="1084.48" y="349.55" width="11.15" height="4.75" fill="#029694"/>
<rect x="1084.48" y="354.30" width="11.15" height="68.50" fill="#ff7f0e"/>
<rect x="1084.48" y="422.80" width="11.15" height="56.65" fill="#aec7e8"/>
<rect x="1104.48" y="118.95" width="11.15" height="30.35" fill="#ff9896"/>
<rect x="1104.48" y="149.30" width="11.15" height="113.50" fill="#9467bd"/>
<rect x="1104.48" y="262.80" width="11.15" height="16.00" fill="#d62728"/>
<rect x="1104.48" y="278.80" width="11.15" height="60.00" fill="#ffbb78"/>
<rect x="1104.48" y="338.80" width="11.15" height="15.50" fill="#2ca02c"/>
<rect x="1104.48" y="354.30" width="11.15" height="16.75" fill="#7fb2ea"/>
<rect x="1104.48" y="371.05" width="11.15" height="69.25" fill="#ff7f0e"/>
<rect x="1104.48" y="440.30" width="11.15" height="39.15" fill="#aec7e8"/>
<rect x="1125.48" y="118.95" width="11.15" height="17.85" fill="#ff9896"/>
<rect x="1125.48" y="136.80" width="11.15" height="123.00" fill="#9467bd"/>
<rect x="1125.48" y="259.80" width="11.15" height="17.00" fill="#d62728"/>
<rect x="1125.48" y="276.80" width="11.15" height="44.25" fill="#ffbb78"/>
<rect x="1125.48" y="321.05" width="11.15" height="9.00" fill="#2ca02c"/>
<rect x="1125.48" y="330.05" width="11.15" height="20.25" fill="#7fb2ea"/>
<rect x="1125.48" y="350.30" width="11.15" height="74.50" fill="#ff7f0e"/>
<rect x="1125.48" y="424.80" width="11.15" height="54.65" fill="#aec7e8"/>
<rect x="1146.48" y="118.95" width="11.15" height="14.85" fill="#ff9896"/>
<rect x="1146.48" y="133.80" width="11.15" height="109.25" fill="#9467bd"/>
<rect x="1146.48" y="243.05" width="11.15" height="16.75" fill="#d62728"/>
<rect x="1146.48" y="259.80" width="11.15" height="42.00" fill="#ffbb78"/>
<rect x="1146.48" y="301.80" width="11.15" height="13.75" fill="#2ca02c"/>
<rect x="1146.48" y="315.55" width="11.15" height="21.00" fill="#7fb2ea"/>
<rect x="1146.48" y="336.55" width="11.15" height="3.25" fill="#029694"/>
<rect x="1146.48" y="339.80" width="11.15" height="82.00" fill="#ff7f0e"/>
<rect x="1146.48" y="421.80" width="11.15" height="56.50" fill="#aec7e8"/>
<rect x="1167.48" y="118.95" width="11.15" height="17.85" fill="#ff9896"/>
<rect x="1167.48" y="136.80" width="11.15" height="82.00" fill="#9467bd"/>
<rect x="1167.48" y="218.80" width="11.15" height="21.00" fill="#d62728"/>
<rect x="1167.48" y="239.80" width="11.15" height="37.00" fill="#ffbb78"/>
<rect x="1167.48" y="276.80" width="11.15" height="16.50" fill="#2ca02c"/>
<rect x="1167.48" y="293.30" width="11.15" height="23.25" fill="#7fb2ea"/>
<rect x="1167.48" y="316.55" width="11.15" height="20.00" fill="#029694"/>
<rect x="1167.48" y="336.55" width="11.15" height="84.25" fill="#ff7f0e"/>
<rect x="1167.48" y="420.80" width="11.15" height="57.50" fill="#aec7e8"/>
<rect x="1188.48" y="118.95" width="11.15" height="18.85" fill="#ff9896"/>
<rect x="1188.48" y="137.80" width="11.15" height="92.50" fill="#9467bd"/>
<rect x="1188.48" y="230.30" width="11.15" height="12.75" fill="#d62728"/>
<rect x="1188.48" y="243.05" width="11.15" height="42.00" fill="#ffbb78"/>
<rect x="1188.48" y="285.05" width="11.15" height="15.75" fill="#2ca02c"/>
<rect x="1188.48" y="300.80" width="11.15" height="23.00" fill="#7fb2ea"/>
<rect x="1188.48" y="323.80" width="11.15" height="26.50" fill="#029694"/>
<rect x="1188.48" y="350.30" width="11.15" height="71.50" fill="#ff7f0e"/>
<rect x="1188.48" y="421.80" width="11.15" height="56.50" fill="#aec7e8"/>
<rect x="1209.48" y="118.95" width="11.15" height="17.85" fill="#ff9896"/>
<rect x="1209.48" y="136.80" width="11.15" height="106.25" fill="#9467bd"/>
<rect x="1209.48" y="243.05" width="11.15" height="13.75" fill="#d62728"/>
<rect x="1209.48" y="256.80" width="11.15" height="37.75" fill="#ffbb78"/>
<rect x="1209.48" y="294.55" width="11.15" height="22.00" fill="#2ca02c"/>
<rect x="1209.48" y="316.55" width="11.15" height="28.50" fill="#7fb2ea"/>
<rect x="1209.48" y="345.05" width="11.15" height="29.25" fill="#029694"/>
<rect x="1209.48" y="374.30" width="11.15" height="62.00" fill="#ff7f0e"/>
<rect x="1209.48" y="436.30" width="11.15" height="40.75" fill="#aec7e8"/>
<rect x="1209.48" y="477.05" width="11.15" height="2.40" fill="#3f3f46"/>
<rect x="1229.48" y="118.95" width="11.15" height="11.60" fill="#ff9896"/>
<rect x="1229.48" y="130.55" width="11.15" height="95.75" fill="#9467bd"/>
<rect x="1229.48" y="226.30" width="11.15" height="16.75" fill="#d62728"/>
<rect x="1229.48" y="243.05" width="11.15" height="50.25" fill="#ffbb78"/>
<rect x="1229.48" y="293.30" width="11.15" height="23.25" fill="#2ca02c"/>
<rect x="1229.48" y="316.55" width="11.15" height="37.75" fill="#7fb2ea"/>
<rect x="1229.48" y="354.30" width="11.15" height="29.50" fill="#029694"/>
<rect x="1229.48" y="383.80" width="11.15" height="41.00" fill="#ff7f0e"/>
<rect x="1229.48" y="424.80" width="11.15" height="52.25" fill="#aec7e8"/>
<rect x="1229.48" y="477.05" width="11.15" height="2.40" fill="#3f3f46"/>
<rect x="1250.48" y="118.95" width="11.15" height="12.60" fill="#ff9896"/>
<rect x="1250.48" y="131.55" width="11.15" height="98.75" fill="#9467bd"/>
<rect x="1250.48" y="230.30" width="11.15" height="9.50" fill="#d62728"/>
<rect x="1250.48" y="239.80" width="11.15" height="44.25" fill="#ffbb78"/>
<rect x="1250.48" y="284.05" width="11.15" height="22.00" fill="#2ca02c"/>
<rect x="1250.48" y="306.05" width="11.15" height="42.00" fill="#7fb2ea"/>
<rect x="1250.48" y="348.05" width="11.15" height="35.75" fill="#029694"/>
<rect x="1250.48" y="383.80" width="11.15" height="49.50" fill="#ff7f0e"/>
<rect x="1250.48" y="433.30" width="11.15" height="46.15" fill="#aec7e8"/>
<rect x="1271.48" y="118.95" width="11.15" height="110.35" fill="#9467bd"/>
<rect x="1271.48" y="229.30" width="11.15" height="3.50" fill="#d62728"/>
<rect x="1271.48" y="232.80" width="11.15" height="25.00" fill="#ffbb78"/>
<rect x="1271.48" y="257.80" width="11.15" height="22.00" fill="#2ca02c"/>
<rect x="1271.48" y="279.80" width="11.15" height="43.00" fill="#7fb2ea"/>
<rect x="1271.48" y="322.80" width="11.15" height="44.25" fill="#029694"/>
<rect x="1271.48" y="367.05" width="11.15" height="53.75" fill="#ff7f0e"/>
<rect x="1271.48" y="420.80" width="11.15" height="58.65" fill="#aec7e8"/>
<rect x="1292.48" y="118.95" width="11.15" height="90.85" fill="#9467bd"/>
<rect x="1292.48" y="209.80" width="11.15" height="14.75" fill="#d62728"/>
<rect x="1292.48" y="224.55" width="11.15" height="26.00" fill="#ffbb78"/>
<rect x="1292.48" y="250.55" width="11.15" height="24.00" fill="#2ca02c"/>
<rect x="1292.48" y="274.55" width="11.15" height="28.25" fill="#7fb2ea"/>
<rect x="1292.48" y="302.80" width="11.15" height="45.25" fill="#029694"/>
<rect x="1292.48" y="348.05" width="11.15" height="54.75" fill="#ff7f0e"/>
<rect x="1292.48" y="402.80" width="11.15" height="76.65" fill="#aec7e8"/>
<rect x="1312.48" y="118.95" width="11.15" height="104.60" fill="#9467bd"/>
<rect x="1312.48" y="223.55" width="11.15" height="31.25" fill="#d62728"/>
<rect x="1312.48" y="254.80" width="11.15" height="27.25" fill="#ffbb78"/>
<rect x="1312.48" y="282.05" width="11.15" height="24.00" fill="#2ca02c"/>
<rect x="1312.48" y="306.05" width="11.15" height="25.25" fill="#7fb2ea"/>
<rect x="1312.48" y="331.30" width="11.15" height="46.25" fill="#029694"/>
<rect x="1312.48" y="377.55" width="11.15" height="55.75" fill="#ff7f0e"/>
<rect x="1312.48" y="433.30" width="11.15" height="30.50" fill="#aec7e8"/>
<rect x="1312.48" y="463.80" width="11.15" height="15.65" fill="#ffcc99"/>
<rect x="1333.48" y="118.95" width="11.15" height="74.85" fill="#9467bd"/>
<rect x="1333.48" y="193.80" width="11.15" height="36.50" fill="#d62728"/>
<rect x="1333.48" y="230.30" width="11.15" height="32.75" fill="#ffbb78"/>
<rect x="1333.48" y="263.05" width="11.15" height="25.25" fill="#2ca02c"/>
<rect x="1333.48" y="288.30" width="11.15" height="28.25" fill="#7fb2ea"/>
<rect x="1333.48" y="316.55" width="11.15" height="52.50" fill="#029694"/>
<rect x="1333.48" y="369.05" width="11.15" height="34.75" fill="#ff7f0e"/>
<rect x="1333.48" y="403.80" width="11.15" height="58.00" fill="#aec7e8"/>
<rect x="1333.48" y="461.80" width="11.15" height="17.65" fill="#ffcc99"/>
<rect x="1354.48" y="118.95" width="11.15" height="4.10" fill="#ff9896"/>
<rect x="1354.48" y="123.05" width="11.15" height="105.50" fill="#9467bd"/>
<rect x="1354.48" y="228.55" width="11.15" height="13.75" fill="#d62728"/>
<rect x="1354.48" y="242.30" width="11.15" height="17.00" fill="#ffbb78"/>
<rect x="1354.48" y="259.30" width="11.15" height="27.75" fill="#2ca02c"/>
<rect x="1354.48" y="287.05" width="11.15" height="8.50" fill="#029694"/>
<rect x="1354.48" y="295.55" width="11.15" height="183.90" fill="#ff7f0e"/>
<rect x="1375.48" y="118.95" width="11.15" height="4.10" fill="#ff9896"/>
<rect x="1375.48" y="123.05" width="11.15" height="117.25" fill="#9467bd"/>
<rect x="1375.48" y="240.30" width="11.15" height="13.00" fill="#d62728"/>
<rect x="1375.48" y="253.30" width="11.15" height="20.25" fill="#ffbb78"/>
<rect x="1375.48" y="273.55" width="11.15" height="42.00" fill="#2ca02c"/>
<rect x="1375.48" y="315.55" width="11.15" height="8.25" fill="#029694"/>
<rect x="1375.48" y="323.80" width="11.15" height="155.65" fill="#ff7f0e"/>
<rect x="1395.48" y="118.95" width="11.15" height="3.10" fill="#ff9896"/>
<rect x="1395.48" y="122.05" width="11.15" height="102.50" fill="#9467bd"/>
<rect x="1395.48" y="224.55" width="11.15" height="7.00" fill="#d62728"/>
<rect x="1395.48" y="231.55" width="11.15" height="32.75" fill="#ffbb78"/>
<rect x="1395.48" y="264.30" width="11.15" height="42.75" fill="#2ca02c"/>
<rect x="1395.48" y="307.05" width="11.15" height="6.25" fill="#029694"/>
<rect x="1395.48" y="313.30" width="11.15" height="166.15" fill="#ff7f0e"/>
</g>
<line x1="19" y1="479.5" x2="1412" y2="479.5" stroke="#d6dcef" stroke-width="1"/>
<g class="xl">
<text transform="translate(32.20 496.2) rotate(-45)" text-anchor="end">Q...</text>
<text transform="translate(73.79 496.2) rotate(-45)" text-anchor="end">Q2 2003</text>
<text transform="translate(115.38 496.2) rotate(-45)" text-anchor="end">Q4 2003</text>
<text transform="translate(156.97 496.2) rotate(-45)" text-anchor="end">Q2 2004</text>
<text transform="translate(198.56 496.2) rotate(-45)" text-anchor="end">Q4 2004</text>
<text transform="translate(240.15 496.2) rotate(-45)" text-anchor="end">Q2 2005</text>
<text transform="translate(281.74 496.2) rotate(-45)" text-anchor="end">Q4 2005</text>
<text transform="translate(323.33 496.2) rotate(-45)" text-anchor="end">Q2 2006</text>
<text transform="translate(364.92 496.2) rotate(-45)" text-anchor="end">Q4 2006</text>
<text transform="translate(406.51 496.2) rotate(-45)" text-anchor="end">Q2 2007</text>
<text transform="translate(448.10 496.2) rotate(-45)" text-anchor="end">Q4 2007</text>
<text transform="translate(489.69 496.2) rotate(-45)" text-anchor="end">Q2 2008</text>
<text transform="translate(531.28 496.2) rotate(-45)" text-anchor="end">Q4 2008</text>
<text transform="translate(572.87 496.2) rotate(-45)" text-anchor="end">Q2 2009</text>
<text transform="translate(614.46 496.2) rotate(-45)" text-anchor="end">Q4 2009</text>
<text transform="translate(656.05 496.2) rotate(-45)" text-anchor="end">Q2 2010</text>
<text transform="translate(697.64 496.2) rotate(-45)" text-anchor="end">Q4 2010</text>
<text transform="translate(739.23 496.2) rotate(-45)" text-anchor="end">Q2 2011</text>
<text transform="translate(780.82 496.2) rotate(-45)" text-anchor="end">Q4 2011</text>
<text transform="translate(822.41 496.2) rotate(-45)" text-anchor="end">Q2 2012</text>
<text transform="translate(864.00 496.2) rotate(-45)" text-anchor="end">Q4 2012</text>
<text transform="translate(905.59 496.2) rotate(-45)" text-anchor="end">Q2 2013</text>
<text transform="translate(947.18 496.2) rotate(-45)" text-anchor="end">Q4 2013</text>
<text transform="translate(988.77 496.2) rotate(-45)" text-anchor="end">Q2 2014</text>
<text transform="translate(1030.36 496.2) rotate(-45)" text-anchor="end">Q4 2014</text>
<text transform="translate(1071.95 496.2) rotate(-45)" text-anchor="end">Q2 2015</text>
<text transform="translate(1113.54 496.2) rotate(-45)" text-anchor="end">Q4 2015</text>
<text transform="translate(1155.13 496.2) rotate(-45)" text-anchor="end">Q2 2016</text>
<text transform="translate(1196.72 496.2) rotate(-45)" text-anchor="end">Q4 2016</text>
<text transform="translate(1238.31 496.2) rotate(-45)" text-anchor="end">Q2 2017</text>
<text transform="translate(1279.90 496.2) rotate(-45)" text-anchor="end">Q4 2017</text>
<text transform="translate(1321.49 496.2) rotate(-45)" text-anchor="end">Q2 2018</text>
<text transform="translate(1363.08 496.2) rotate(-45)" text-anchor="end">Q4 2022</text>
<text transform="translate(1404.67 496.2) rotate(-45)" text-anchor="end">Q2 2023</text>
</g>
<g class="lg">
<circle cx="140.2" cy="557.6" r="6.3" fill="#ff9896"/>
<text x="153.85" y="562.60" textLength="189.15" lengthAdjust="spacing">INFORMATION TECHNOLOGY</text>
<circle cx="140.2" cy="573.6" r="6.3" fill="#2ca02c"/>
<text x="153.85" y="578.60" textLength="56.95" lengthAdjust="spacing">FINANCE</text>
<circle cx="140.2" cy="589.3" r="6.3" fill="#98df8a"/>
<text x="153.85" y="594.30" textLength="91.65" lengthAdjust="spacing">HEALTH CARE</text>
<circle cx="140.2" cy="605.0" r="6.3" fill="#9999ff"/>
<text x="153.85" y="610.00" textLength="86.55" lengthAdjust="spacing">REAL ESTATE</text>
<circle cx="437.2" cy="557.6" r="6.3" fill="#9467bd"/>
<text x="451.00" y="562.60" textLength="73.80" lengthAdjust="spacing">MATERIALS</text>
<circle cx="437.2" cy="573.6" r="6.3" fill="#7fb2ea"/>
<text x="451.00" y="578.60" textLength="253.90" lengthAdjust="spacing">UTILITIES AND TELECOMMUNICATIONS</text>
<circle cx="437.2" cy="589.3" r="6.3" fill="#aec7e8"/>
<text x="451.00" y="594.30" textLength="132.70" lengthAdjust="spacing">CONSUMER STAPLES</text>
<circle cx="437.2" cy="605.0" r="6.3" fill="#ffcc99"/>
<text x="451.00" y="610.00" textLength="37.20" lengthAdjust="spacing">Other</text>
<circle cx="734.2" cy="557.6" r="6.3" fill="#d62728"/>
<text x="748.20" y="562.60" textLength="85.70" lengthAdjust="spacing">INDUSTRIALS</text>
<circle cx="734.2" cy="573.6" r="6.3" fill="#029694"/>
<text x="748.20" y="578.60" textLength="86.20" lengthAdjust="spacing">TRANSPORTS</text>
<circle cx="734.2" cy="589.3" r="6.3" fill="#3f3f46"/>
<text x="748.20" y="594.30" textLength="124.00" lengthAdjust="spacing">COMMUNICATIONS</text>
<circle cx="1031.3" cy="557.6" r="6.3" fill="#ffbb78"/>
<text x="1044.60" y="562.60" textLength="184.10" lengthAdjust="spacing">CONSUMER DISCRETIONARY</text>
<circle cx="1031.3" cy="573.6" r="6.3" fill="#ff7f0e"/>
<text x="1044.60" y="578.60" textLength="51.60" lengthAdjust="spacing">ENERGY</text>
<circle cx="1031.3" cy="589.3" r="6.3" fill="#c5b0d5"/>
<text x="1044.60" y="594.30" textLength="96.30" lengthAdjust="spacing">MUTUAL FUND</text>
</g>
</svg>
</body></html>
